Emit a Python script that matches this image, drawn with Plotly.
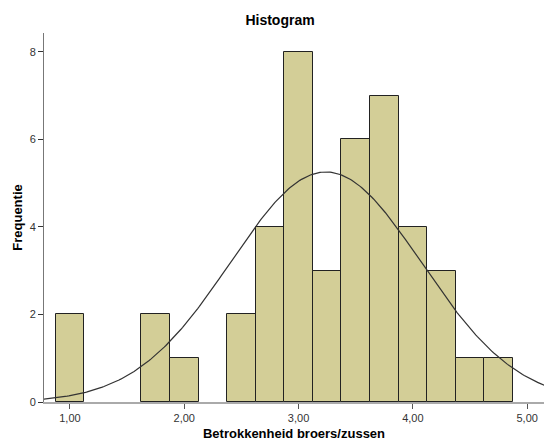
import numpy as np
import plotly.graph_objects as go

# Histogram bins (centers) and counts
bin_centers = [1.00, 1.75, 2.00, 2.50, 2.75, 3.00, 3.25, 3.50, 3.75, 4.00, 4.25, 4.50, 4.75]
counts = [2, 2, 1, 2, 4, 8, 3, 6, 7, 4, 3, 1, 1]
bin_width = 0.25
x_ticks = [1, 2, 3, 4, 5]
y_ticks = [0, 2, 4, 6, 8]

# Normal curve fitted to the data (as SPSS does)
vals = np.repeat(bin_centers, counts)
mean = vals.mean()
sd = vals.std(ddof=1)
n = len(vals)
xs = np.linspace(0.77, 5.15, 300)
ys = n * bin_width / (sd * np.sqrt(2 * np.pi)) * np.exp(-0.5 * ((xs - mean) / sd) ** 2)

fig = go.Figure()
fig.add_trace(go.Bar(
    x=bin_centers, y=counts, width=bin_width,
    marker=dict(color="#D3CE97", line=dict(color="#222222", width=1)),
    hoverinfo="x+y",
))
fig.add_trace(go.Scatter(
    x=xs, y=ys, mode="lines",
    line=dict(color="#333333", width=1.2),
    hoverinfo="skip",
))

fig.update_layout(
    width=544, height=441,
    margin=dict(l=44, r=0, t=33, b=39),
    paper_bgcolor="white", plot_bgcolor="white",
    showlegend=False,
    separators=",.",
    bargap=0,
    font=dict(family="Liberation Sans, Arial, sans-serif", size=11, color="#333333"),
    title=dict(text="<b>Histogram</b>", x=280 / 544, xref="container", xanchor="center",
               y=1 - 20 / 441, yref="container", yanchor="middle",
               font=dict(size=14, color="#000000")),
)
fig.update_xaxes(
    range=[0.773, 5.147],
    tickvals=x_ticks, tickformat=".2f",
    ticks="outside", ticklen=5, tickcolor="#555555",
    showline=True, linecolor="#aaaaaa", linewidth=2,
    showgrid=False, zeroline=False,
    tickfont=dict(size=11, color="#333333"),
    title=dict(text="<b>Betrokkenheid broers/zussen</b>", standoff=8,
               font=dict(size=13, color="#000000")),
)
fig.update_yaxes(
    range=[0, 8.43],
    tickvals=y_ticks,
    ticks="outside", ticklen=5, tickcolor="#333333",
    showline=True, linecolor="#777777", linewidth=1,
    showgrid=False, zeroline=False,
    tickfont=dict(size=11, color="#333333"),
    title=dict(text="<b>Frequentie</b>", standoff=4,
               font=dict(size=13, color="#000000")),
)

fig.write_html("out.html", config={"displayModeBar": False},
               post_script="document.body.style.margin='0';")
